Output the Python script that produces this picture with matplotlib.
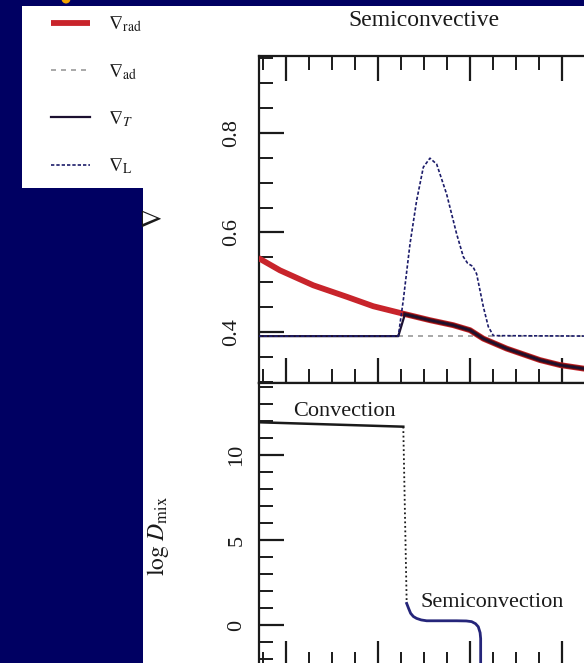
import numpy as np
import matplotlib
matplotlib.use("Agg")
import matplotlib.pyplot as plt
from matplotlib.patches import Rectangle, Ellipse
from matplotlib.ticker import MultipleLocator

plt.rcParams['font.family'] = ['Liberation Serif', 'DejaVu Serif']
plt.rcParams['mathtext.fontset'] = 'stix'

# --- data (x in arbitrary radial units, major tick = 1) ---
x_rad = [0.70, 0.736, 0.935, 1.297, 1.660, 1.949, 2.275, 2.565, 2.818, 3.0, 3.145, 3.399, 3.761, 3.978, 4.232, 4.45]
grad_rad = [0.549, 0.545, 0.524, 0.494, 0.471, 0.452, 0.437, 0.424, 0.414, 0.404, 0.387, 0.367, 0.344, 0.334, 0.327, 0.321]

x_ad = [0.70, 4.45]
grad_ad = [0.392, 0.392]

x_T = [0.70, 2.221, 2.293, 2.565, 2.818, 3.0, 3.145, 3.399, 3.761, 3.978, 4.232, 4.45]
grad_T = [0.392, 0.392, 0.436, 0.424, 0.414, 0.404, 0.387, 0.367, 0.344, 0.334, 0.327, 0.321]

x_L = [0.70, 2.221, 2.275, 2.348, 2.420, 2.493, 2.565, 2.638, 2.746, 2.855, 2.928, 2.975, 3.03, 3.072,
       3.145, 3.199, 3.254, 4.45]
grad_L = [0.392, 0.392, 0.464, 0.577, 0.664, 0.731, 0.749, 0.737, 0.677, 0.597, 0.551, 0.538, 0.532, 0.517,
          0.451, 0.411, 0.393, 0.392]

x_conv = [0.70, 2.275]
logD_conv = [11.93, 11.67]
x_jump = [2.275, 2.312]
logD_jump = [11.67, 1.27]
x_semi = [2.312, 2.335, 2.355, 2.385, 2.420, 2.470, 2.529, 2.855, 2.960, 3.018, 3.060, 3.090, 3.110, 3.116, 3.116]
logD_semi = [1.27, 0.95, 0.69, 0.50, 0.39, 0.30, 0.25, 0.25, 0.24, 0.20, 0.08, -0.10, -0.45, -0.8, -2.6]

legend_labels = [r'$\nabla_{\rm rad}$', r'$\nabla_{\rm ad}$', r'$\nabla_T$', r'$\nabla_{\rm L}$']

navy = '#000062'
red = '#c8242b'
ink = '#1a1a1a'

W, H = 584, 663


def fx(px):
    return px / W


def fy(py):
    return 1 - py / H


fig = plt.figure(figsize=(W / 100, H / 100), dpi=100, facecolor=navy)

# white panels (slide background)
fig.patches.append(Rectangle((fx(143), 0), fx(584) - fx(143) + 0.01, fy(6), transform=fig.transFigure,
                             facecolor='white', edgecolor='none', zorder=-10))
fig.patches.append(Rectangle((fx(22), fy(188)), fx(143) - fx(22) + 0.002, fy(6) - fy(188), transform=fig.transFigure,
                             facecolor='white', edgecolor='none', zorder=-10))
fig.patches.append(Ellipse((fx(66), fy(-1)), 9 / W, 9 / H, transform=fig.transFigure,
                           facecolor='#f0a400', edgecolor='none', zorder=-9))

ax1 = fig.add_axes([fx(259), fy(383), (600 - 259) / W, (383 - 56) / H])
ax2 = fig.add_axes([fx(259), fy(666), (600 - 259) / W, (666 - 383) / H], sharex=ax1)

for ax in (ax1, ax2):
    ax.set_facecolor('white')
    for s in ax.spines.values():
        s.set_linewidth(1.6)
        s.set_color(ink)
    ax.xaxis.set_major_locator(MultipleLocator(1))
    ax.xaxis.set_minor_locator(MultipleLocator(0.25))
    ax.tick_params(which='major', direction='in', length=18, width=1.6, color=ink, labelcolor=ink, labelsize=16)
    ax.tick_params(which='minor', direction='in', length=10, width=1.4, color=ink)

ax1.set_xlim(0.707, 4.413)

# upper panel: gradients
l_ad, = ax1.plot(x_ad, grad_ad, color='#9a9a9a', lw=1.2, ls=(0, (3, 3)), zorder=2)
l_rad, = ax1.plot(x_rad, grad_rad, color=red, lw=4.2, solid_capstyle='butt', zorder=3)
l_T, = ax1.plot(x_T, grad_T, color='#1c1030', lw=1.6, zorder=4)
l_L, = ax1.plot(x_L, grad_L, color='#1c1c6a', lw=1.2, ls=(0, (2, 1.2)), zorder=5)
# darken the radiative line where the actual gradient follows it
ax1.plot(x_T[2:], grad_T[2:], color='#3a0808', lw=3.0, alpha=0.75, zorder=3.5)

ax1.set_ylim(0.298, 0.954)
ax1.yaxis.set_minor_locator(MultipleLocator(0.05))
ax1.tick_params(axis='x', which='both', top=True, bottom=True, labelbottom=False)
ax1.tick_params(axis='y', which='both', left=True, right=False, pad=13)
ax1.set_yticks([0.4, 0.6, 0.8])
ax1.set_yticklabels(['0.4', '0.6', '0.8'], rotation=90, va='center')

# lower panel: mixing coefficient
ax2.plot(x_conv, logD_conv, color=ink, lw=1.8)
ax2.plot(x_jump, logD_jump, color=ink, lw=1.3, ls=(0, (1, 1.5)))
ax2.plot(x_semi, logD_semi, color='#25257a', lw=2.0)
ax2.set_ylim(-2.41, 14.24)
ax2.yaxis.set_minor_locator(MultipleLocator(1))
ax2.set_yticks([0, 5, 10])
ax2.set_yticklabels(['0', '5', '10'], rotation=90, va='center')
ax2.tick_params(axis='x', which='both', top=False, bottom=True, labelbottom=False)
ax2.tick_params(axis='y', which='both', left=True, right=False, pad=9)

ax2.text(1.08, 12.55, 'Convection', fontsize=16, color=ink, ha='left', va='center')
ax2.text(2.457, 1.31, 'Semiconvection', fontsize=16, color=ink, ha='left', va='center')

fig.text(fx(348), fy(20), 'Semiconvective', fontsize=17, color=ink, ha='left', va='center')
fig.text(fx(155), fy(219), r'$\nabla$', fontsize=20, color=ink, rotation=90, ha='center', va='center')
fig.text(fx(158), fy(536), r'$\log\,D_{\rm mix}$', fontsize=17, color=ink, rotation=90, ha='center', va='center')

fig.legend(handles=[l_rad, l_ad, l_T, l_L], labels=legend_labels, loc='upper left',
           bbox_to_anchor=(fx(33), fy(-3)), frameon=False, fontsize=14, handlelength=2.05,
           handletextpad=0.9, labelspacing=1.42, labelcolor=ink)

fig.savefig('out.png', dpi=100, facecolor=navy)
